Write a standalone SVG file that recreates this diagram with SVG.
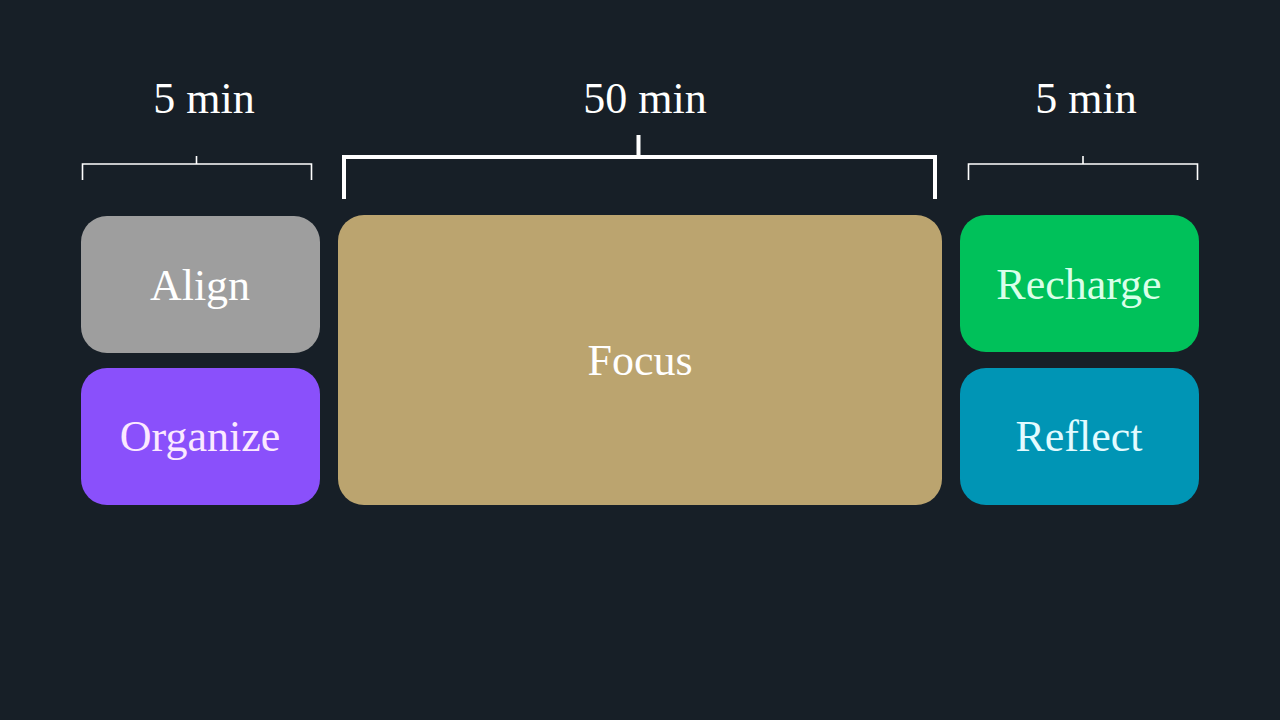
<svg xmlns="http://www.w3.org/2000/svg" width="1280" height="720" viewBox="0 0 1280 720">
<style>
.lbl{font-family:"Liberation Serif","Noto Serif",serif;font-size:44px;text-anchor:middle}
.dur{font-family:"Liberation Serif","Noto Serif",serif;font-size:44px;fill:#ffffff;text-anchor:middle}
.br{fill:none;stroke:#ffffff;stroke-linecap:butt}
</style>
<rect width="1280" height="720" fill="#171f27"/>
<g id="connectors">
<path class="br" stroke-width="1.6" d="M82.5,180 V164 H311.5 V180 M196.5,156 V164"/>
<path class="br" stroke-width="4" d="M344,199 V157 H935 V199 M638.5,135 V157"/>
<path class="br" stroke-width="1.6" d="M968.5,180 V164 H1197.5 V180 M1083,156 V164"/>
</g>
<g id="label-5min-left"><text class="dur" x="204" y="113">5 min</text></g>
<g id="label-50min"><text class="dur" x="645" y="113">50 min</text></g>
<g id="label-5min-right"><text class="dur" x="1086" y="113">5 min</text></g>
<g id="align"><rect x="81" y="216" width="239" height="137" rx="26" fill="#9e9e9e"/><text class="lbl" x="200" y="300" fill="#ffffff">Align</text></g>
<g id="organize"><rect x="81" y="368" width="239" height="137" rx="26" fill="#8a50fb"/><text class="lbl" x="200" y="451" fill="#fbe9ff">Organize</text></g>
<g id="focus"><rect x="338" y="215" width="604" height="290" rx="26" fill="#bba46f"/><text class="lbl" x="640" y="375" fill="#ffffff">Focus</text></g>
<g id="recharge"><rect x="960" y="215" width="239" height="137" rx="26" fill="#00c15a"/><text class="lbl" x="1079" y="299" fill="#d9ffe9">Recharge</text></g>
<g id="reflect"><rect x="960" y="368" width="239" height="137" rx="26" fill="#0095b5"/><text class="lbl" x="1079" y="451" fill="#e3fbff">Reflect</text></g>
</svg>
